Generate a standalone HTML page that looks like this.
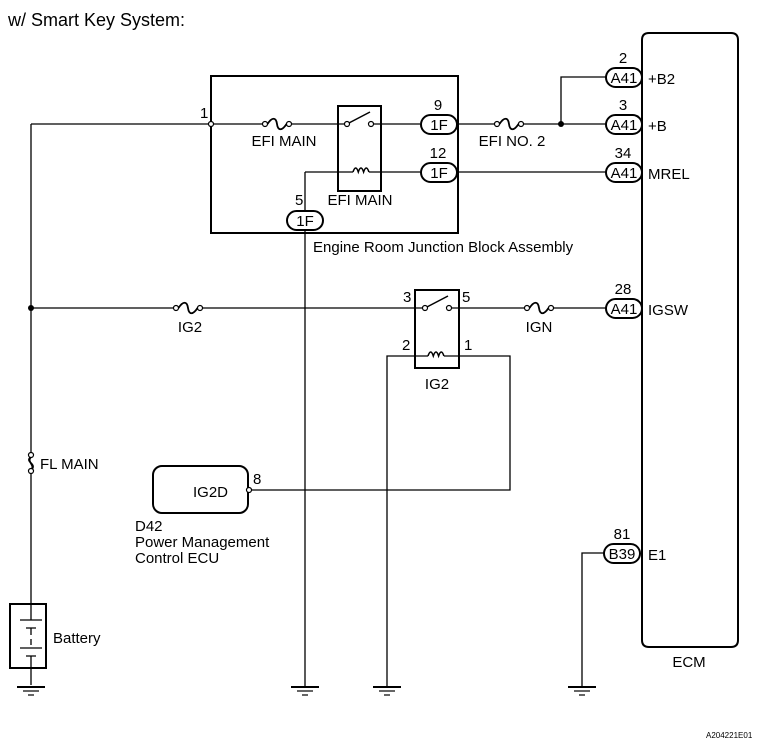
<!DOCTYPE html>
<html><head><meta charset="utf-8"><style>
html,body{margin:0;padding:0;background:#fff;}
svg{display:block;font-family:"Liberation Sans",Arial,sans-serif;}
</style></head><body>
<svg width="770" height="746" viewBox="0 0 770 746" xmlns="http://www.w3.org/2000/svg">
<defs>
<g id="fuse"><circle cx="0" cy="0" r="2.5" fill="#fff" stroke="#000" stroke-width="1.2"/><circle cx="24" cy="0" r="2.5" fill="#fff" stroke="#000" stroke-width="1.2"/><path d="M2.5,0 C7,-7 11,-7 12,0 C13,7 17,7 21.5,0" fill="none" stroke="#000" stroke-width="1.8"/></g>
<g id="gnd"><line x1="-14" y1="0" x2="14" y2="0" stroke="#000" stroke-width="2"/><line x1="-8" y1="4" x2="8" y2="4" stroke="#000" stroke-width="1.2"/><line x1="-3" y1="8" x2="3" y2="8" stroke="#000" stroke-width="1.2"/></g>
</defs>
<g fill="none" stroke="#000" stroke-width="1.3">
<path d="M642,40 Q642,33 649,33 L731,33 Q738,33 738,40 L738,640 Q738,647 731,647 L649,647 Q642,647 642,640 Z" stroke-width="2"/>
<rect x="211" y="76" width="247" height="157" stroke-width="2"/>
<rect x="338" y="106" width="43" height="85" stroke-width="2"/>
<rect x="415" y="290" width="44" height="78" stroke-width="2"/>
<rect x="153" y="466" width="95" height="47" rx="9" stroke-width="2"/>
<rect x="10" y="604" width="36" height="64" stroke-width="2"/>
<path d="M31,124 L265,124 M289,124 L344,124 M374,124 L420,124 M457,124 L497,124 M521,124 L606,124 M561,124 L561,77 L606,77"/>
<path d="M305,172 L353,172 M369,172 L420,172 M457,172 L606,172"/>
<path d="M305,172 L305,212 M305,230 L305,687"/>
<path d="M31,124 L31,455 M31,470 L31,620"/>
<path d="M31,308 L176,308 M200,308 L422,308 M452,308 L527,308 M551,308 L606,308"/>
<path d="M387,687 L387,356 L428,356 M444,356 L510,356 L510,490 L250,490"/>
<path d="M604,553 L582,553 L582,687"/>
<path d="M31,668 L31,685"/>
<path d="M347,124 L370,112" stroke-width="1.5"/>
<path d="M425,308 L448,296" stroke-width="1.5"/>
<path d="M353,172 q2.7,-8 5.3,0 q2.7,-8 5.3,0 q2.7,-8 5.3,0" stroke-width="1.5"/>
<path d="M428,356 q2.7,-8 5.3,0 q2.7,-8 5.3,0 q2.7,-8 5.3,0" stroke-width="1.5"/>
<path d="M20,620 L42,620 M26,628 L36,628 M31,628 L31,635 M31,639 L31,645 M20,648 L42,648 M26,656 L36,656 M31,656 L31,668"/>
<path d="M31,457 C24,462 38,464 31,470 M31,457 C26,462 36,465 31,470" stroke-width="1.8"/>
</g>
<g fill="#fff" stroke="#000" stroke-width="1.2">
<circle cx="211" cy="124" r="2.5"/>
<circle cx="347" cy="124" r="2.5"/><circle cx="371" cy="124" r="2.5"/>
<circle cx="425" cy="308" r="2.5"/><circle cx="449" cy="308" r="2.5"/>
<circle cx="31" cy="455" r="2.5"/><circle cx="31" cy="471" r="2.5"/>
<circle cx="249" cy="490" r="2.5"/>
</g>
<circle cx="561" cy="124" r="3" fill="#000"/>
<circle cx="31" cy="308" r="3" fill="#000"/>
<use href="#fuse" x="265" y="124"/>
<use href="#fuse" x="497" y="124"/>
<use href="#fuse" x="176" y="308"/>
<use href="#fuse" x="527" y="308"/>
<use href="#gnd" x="31" y="687"/>
<use href="#gnd" x="305" y="687"/>
<use href="#gnd" x="387" y="687"/>
<use href="#gnd" x="582" y="687"/>
<g fill="#fff" stroke="#000" stroke-width="2">
<rect x="421" y="115" width="36" height="19" rx="9.5"/>
<rect x="421" y="163" width="36" height="19" rx="9.5"/>
<rect x="287" y="211" width="36" height="19" rx="9.5"/>
<rect x="606" y="68" width="36" height="19" rx="9.5"/>
<rect x="606" y="115" width="36" height="19" rx="9.5"/>
<rect x="606" y="163" width="36" height="19" rx="9.5"/>
<rect x="606" y="299" width="36" height="19" rx="9.5"/>
<rect x="604" y="544" width="36" height="19" rx="9.5"/>
</g>
<g font-size="15" fill="#000" text-anchor="middle">
<text x="439" y="130">1F</text><text x="439" y="178">1F</text><text x="305" y="226">1F</text>
<text x="624" y="83">A41</text><text x="624" y="130">A41</text><text x="624" y="178">A41</text><text x="624" y="314">A41</text>
<text x="622" y="559">B39</text>
<text x="438" y="110">9</text><text x="438" y="158">12</text>
<text x="623" y="63">2</text><text x="623" y="110">3</text><text x="623" y="158">34</text><text x="623" y="294">28</text><text x="622" y="539">81</text>
<text x="284" y="146">EFI MAIN</text><text x="360" y="205">EFI MAIN</text><text x="512" y="146">EFI NO. 2</text>
<text x="190" y="332">IG2</text><text x="539" y="332">IGN</text><text x="437" y="389">IG2</text>
<text x="689" y="667">ECM</text>
</g>
<g font-size="15" fill="#000">
<text x="8" y="26" font-size="18">w/ Smart Key System:</text>
<text x="200" y="118">1</text>
<text x="295" y="205">5</text>
<text x="313" y="252">Engine Room Junction Block Assembly</text>
<text x="648" y="84">+B2</text><text x="648" y="131">+B</text><text x="648" y="179">MREL</text><text x="648" y="315">IGSW</text><text x="648" y="560">E1</text>
<text x="403" y="302">3</text><text x="462" y="302">5</text><text x="402" y="350">2</text><text x="464" y="350">1</text>
<text x="40" y="469">FL MAIN</text>
<text x="193" y="497">IG2D</text><text x="253" y="484">8</text>
<text x="135" y="531">D42</text><text x="135" y="547">Power Management</text><text x="135" y="563">Control ECU</text>
<text x="53" y="643">Battery</text>
<text x="706" y="738" font-size="8">A204221E01</text>
</g>
</svg>
</body></html>
